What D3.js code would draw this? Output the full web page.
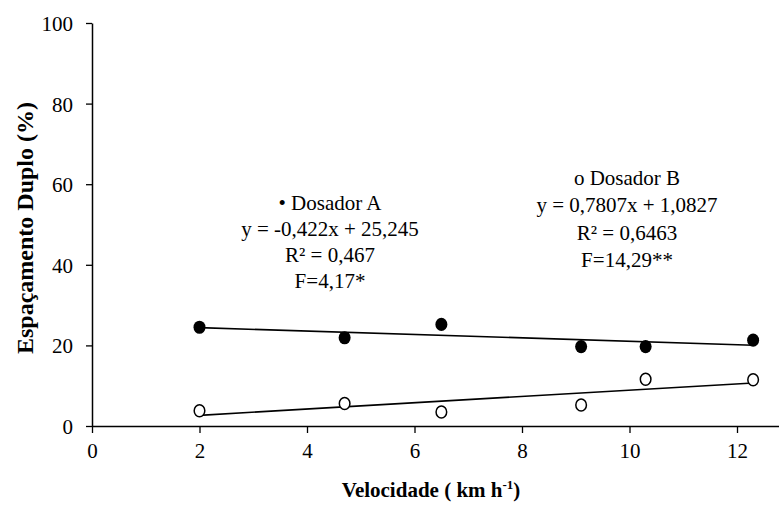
<!DOCTYPE html>
<html>
<head>
<meta charset="utf-8">
<script src="https://cdn.jsdelivr.net/npm/d3@7"></script>
<style>
  html, body { margin: 0; padding: 0; background: #fff; }
  svg { display: block; }
  svg text { font-family: "Liberation Serif", "Times New Roman", "DejaVu Serif", serif !important; fill: #000; }
</style>
</head>
<body>
<svg id="chart" width="779" height="505"></svg>
<script>
// Speed (km/h) at which each treatment was measured
const velocidade = [2, 4.7, 6.5, 9.1, 10.3, 12.3];
// Double spacing (%) for each seed metering device
const dosadorA = [24.5, 21.9, 25.2, 19.7, 19.7, 21.3];
const dosadorB = [3.8, 5.6, 3.5, 5.2, 11.6, 11.5];
// Fitted linear models: y = slope * x + intercept
const fitA = { slope: -0.422, intercept: 25.245 };
const fitB = { slope: 0.7807, intercept: 1.0827 };
const xTicks = [0, 2, 4, 6, 8, 10, 12];
const yTicks = [0, 20, 40, 60, 80, 100];
const labelA = ["\u2022 Dosador A", "y = -0,422x + 25,245", "R\u00B2 = 0,467", "F=4,17*"];
const labelB = ["o Dosador B", "y = 0,7807x + 1,0827", "R\u00B2 = 0,6463", "F=14,29**"];

const serif = "'Liberation Serif', 'Times New Roman', serif";
const svg = d3.select("#chart");

const x = d3.scaleLinear().domain([0, 12.8]).range([92, 780]);
const y = d3.scaleLinear().domain([0, 100]).range([426, 23]);

// Axes
const xAxis = d3.axisBottom(x).tickValues(xTicks).tickSize(7).tickSizeOuter(0).tickPadding(5);
const yAxis = d3.axisLeft(y).tickValues(yTicks).tickSize(6).tickSizeOuter(0).tickPadding(13);

const gx = svg.append("g").attr("transform", `translate(0,${y(0)})`).call(xAxis);
const gy = svg.append("g").attr("transform", `translate(${x(0)},0)`).call(yAxis);

[gx, gy].forEach(g => {
  g.attr("font-family", null).attr("font-size", null);
  g.select(".domain").attr("stroke", "#000").attr("stroke-width", 1.5);
  g.selectAll(".tick line").attr("stroke", "#000").attr("stroke-width", 1.3);
  g.selectAll(".tick text")
    .style("font-family", serif).style("font-size", "21px").attr("fill", "#000");
});
gx.selectAll(".tick text").attr("dy", "0.95em");
gy.selectAll(".tick text").attr("dy", "0.36em");

// Axis titles
const xt = svg.append("text")
  .attr("x", 431).attr("y", 497)
  .attr("text-anchor", "middle")
  .style("font-family", serif).style("font-size", "21px").style("font-weight", "bold");
xt.append("tspan").text("Velocidade ( km h");
xt.append("tspan").style("font-size", "13px").attr("dy", -8).text("-1");
xt.append("tspan").attr("dy", 8).text(")");

svg.append("text")
  .attr("transform", "translate(33,228) rotate(-90)")
  .attr("text-anchor", "middle")
  .style("font-family", serif).style("font-size", "24px").style("font-weight", "bold")
  .text("Espaçamento Duplo (%)");

// Regression lines over the measured speed range
const xMin = d3.min(velocidade), xMax = d3.max(velocidade);
const line = d3.line().x(d => x(d[0])).y(d => y(d[1]));
[fitA, fitB].forEach(f => {
  svg.append("path")
    .datum([xMin, xMax].map(v => [v, f.slope * v + f.intercept]))
    .attr("d", line)
    .attr("fill", "none").attr("stroke", "#000").attr("stroke-width", 1.6);
});

// Observed points
const ptsA = velocidade.map((v, i) => [v, dosadorA[i]]);
const ptsB = velocidade.map((v, i) => [v, dosadorB[i]]);

svg.append("g").selectAll("ellipse").data(ptsA).join("ellipse")
  .attr("cx", d => x(d[0])).attr("cy", d => y(d[1]))
  .attr("rx", 6).attr("ry", 6.6)
  .attr("fill", "#000");

svg.append("g").selectAll("ellipse").data(ptsB).join("ellipse")
  .attr("cx", d => x(d[0])).attr("cy", d => y(d[1]))
  .attr("rx", 5.3).attr("ry", 6)
  .attr("fill", "#fff").attr("stroke", "#000").attr("stroke-width", 1.5);

// Equation annotations
function annotate(lines, cx, baselines) {
  svg.append("g").selectAll("text").data(lines).join("text")
    .attr("x", cx).attr("y", (d, i) => baselines[i])
    .attr("text-anchor", "middle")
    .style("font-family", serif).style("font-size", "21px")
    .text(d => d);
}
annotate(labelA, 330, [210, 236, 262, 288]);
annotate(labelB, 627, [185, 212, 240, 267]);
</script>
</body>
</html>
